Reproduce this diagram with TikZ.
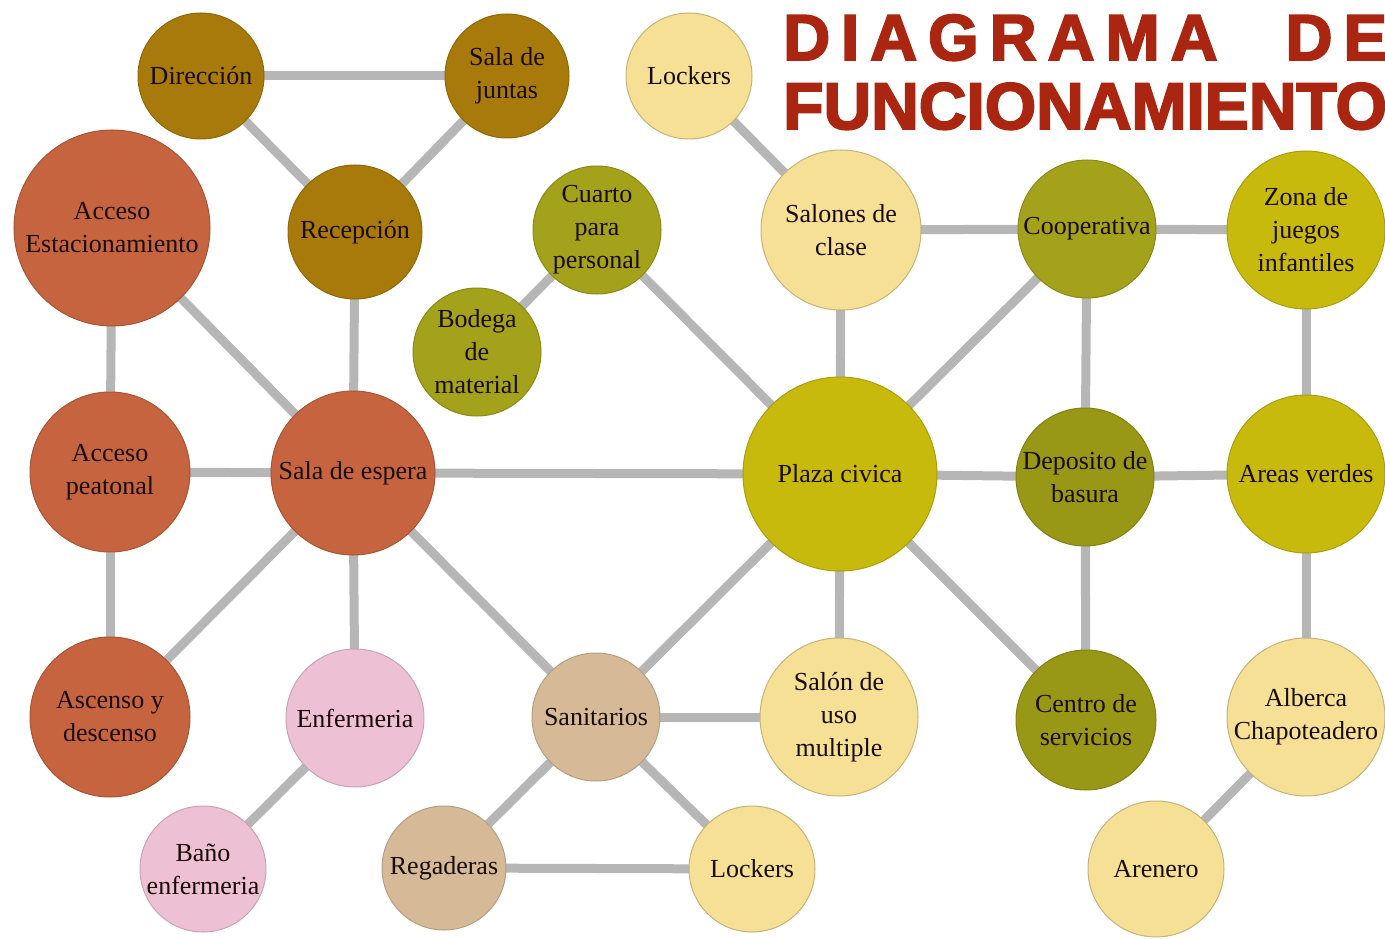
\documentclass[tikz,border=0pt]{standalone}
\usepackage{fontspec}
\setmainfont{Liberation Serif}
\newfontfamily\titlefont{Liberation Sans Bold}[FakeBold=3]
\usetikzlibrary{backgrounds}
\definecolor{cGold}{RGB}{168,122,12}
\definecolor{cRust}{RGB}{197,100,62}
\definecolor{cOlive}{RGB}{164,161,26}
\definecolor{cOliveD}{RGB}{152,152,22}
\definecolor{cYel}{RGB}{200,186,12}
\definecolor{cCream}{RGB}{246,224,150}
\definecolor{cPink}{RGB}{238,192,212}
\definecolor{cTan}{RGB}{214,186,152}
\definecolor{cLine}{RGB}{182,182,182}
\definecolor{cTxt}{RGB}{25,12,8}
\definecolor{cTitle}{RGB}{170,38,16}
\tikzset{
  room/.style={circle, inner sep=-10pt, minimum size=#1, align=center, text=cTxt,
    font=\fontsize{26}{33}\selectfont, line width=1pt},
  gold/.style={fill=cGold, draw=cGold!85!black},
  rust/.style={fill=cRust, draw=cRust!85!black},
  olive/.style={fill=cOlive, draw=cOlive!85!black},
  oliveD/.style={fill=cOliveD, draw=cOliveD!85!black},
  yel/.style={fill=cYel, draw=cYel!85!black},
  cream/.style={fill=cCream, draw=cCream!80!black},
  pink/.style={fill=cPink, draw=cPink!85!black},
  tan/.style={fill=cTan, draw=cTan!85!black},
  link/.style={draw=cLine, line width=9pt},
  titletext/.style={anchor=base west, inner sep=0pt, text=cTitle}
}
\begin{document}
\begin{tikzpicture}[x=1pt,y=-1pt]
\useasboundingbox (0,0) rectangle (1385,939);
% title
\node[titletext] (t1) at (783,60) {\titlefont\fontsize{65}{65}\selectfont D\hspace{11pt}I\hspace{11pt}A\hspace{11pt}G\hspace{11pt}R\hspace{11pt}A\hspace{11pt}M\hspace{11pt}A\hspace{68pt}D\hspace{11pt}E};
\node[titletext] (t2) at (783,129) {\titlefont\fontsize{66}{66}\selectfont FUNCIONAMIENTO};
% rooms
\node[room=126, gold] (dir) at (201,76) {Dirección};
\node[room=124, gold] (junta) at (507,76) {Sala de\\juntas};
\node[room=134, gold] (rec) at (355,232) {Recepción};
\node[room=196, rust] (accest) at (112,228) {Acceso\\Estacionamiento};
\node[room=160, rust] (accpeat) at (110,472) {Acceso\\peatonal};
\node[room=164, rust] (sala) at (353,473) {Sala de espera};
\node[room=160, rust] (asc) at (110,717) {Ascenso y\\descenso};
\node[room=138, pink] (enf) at (355,718) {Enfermeria};
\node[room=126, pink] (bano) at (203,869) {Baño\\enfermeria};
\node[room=128, tan] (san) at (596,717) {Sanitarios};
\node[room=124, tan] (reg) at (444,868) {Regaderas};
\node[room=126, cream] (lockb) at (752,869) {Lockers};
\node[room=158, cream] (salon) at (839,717) {Salón de\\uso\\multiple};
\node[room=128, olive] (cuarto) at (597,230) {Cuarto\\para\\personal};
\node[room=128, olive] (bod) at (477,352) {Bodega\\de\\material};
\node[room=126, cream] (lockt) at (689,76) {Lockers};
\node[room=160, cream] (salones) at (841,230) {Salones de\\clase};
\node[room=138, olive] (coop) at (1087,229) {Cooperativa};
\node[room=158, yel] (zona) at (1306,230) {Zona de\\juegos\\infantiles};
\node[room=194, yel] (plaza) at (840,474) {Plaza civica};
\node[room=138, oliveD] (dep) at (1085,477) {Deposito de\\basura};
\node[room=158, yel] (areas) at (1306,474) {Areas verdes};
\node[room=140, oliveD] (centro) at (1086,720) {Centro de\\servicios};
\node[room=158, cream] (alb) at (1306,717) {Alberca\\Chapoteadero};
\node[room=136, cream] (aren) at (1156,869) {Arenero};
% connectors
\begin{scope}[on background layer]
\draw[link] (dir.center) -- (junta.center);
\draw[link] (dir.center) -- (rec.center);
\draw[link] (junta.center) -- (rec.center);
\draw[link] (rec.center) -- (sala.center);
\draw[link] (accest.center) -- (sala.center);
\draw[link] (accest.center) -- (accpeat.center);
\draw[link] (accpeat.center) -- (sala.center);
\draw[link] (accpeat.center) -- (asc.center);
\draw[link] (sala.center) -- (asc.center);
\draw[link] (sala.center) -- (enf.center);
\draw[link] (enf.center) -- (bano.center);
\draw[link] (sala.center) -- (san.center);
\draw[link] (sala.center) -- (plaza.center);
\draw[link] (bod.center) -- (cuarto.center);
\draw[link] (cuarto.center) -- (plaza.center);
\draw[link] (lockt.center) -- (salones.center);
\draw[link] (salones.center) -- (plaza.center);
\draw[link] (salones.center) -- (coop.center);
\draw[link] (coop.center) -- (zona.center);
\draw[link] (coop.center) -- (plaza.center);
\draw[link] (coop.center) -- (dep.center);
\draw[link] (zona.center) -- (areas.center);
\draw[link] (plaza.center) -- (dep.center);
\draw[link] (dep.center) -- (areas.center);
\draw[link] (dep.center) -- (centro.center);
\draw[link] (plaza.center) -- (centro.center);
\draw[link] (plaza.center) -- (salon.center);
\draw[link] (plaza.center) -- (san.center);
\draw[link] (san.center) -- (salon.center);
\draw[link] (san.center) -- (reg.center);
\draw[link] (san.center) -- (lockb.center);
\draw[link] (reg.center) -- (lockb.center);
\draw[link] (areas.center) -- (alb.center);
\draw[link] (alb.center) -- (aren.center);
\end{scope}
\end{tikzpicture}
\end{document}
